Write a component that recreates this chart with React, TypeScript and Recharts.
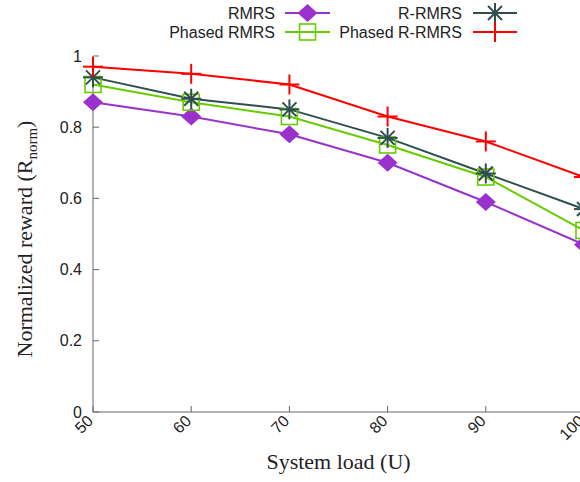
import React from "react";
import { LineChart, Line, XAxis, YAxis, Legend } from "recharts";

const loads = [50, 60, 70, 80, 90, 100];
const yTicks = [0, 0.2, 0.4, 0.6, 0.8, 1];
const yTickLabels = ["0", "0.2", "0.4", "0.6", "0.8", "1"];

const rmrs = [0.87, 0.83, 0.78, 0.7, 0.59, 0.47];
const phasedRmrs = [0.92, 0.87, 0.83, 0.75, 0.66, 0.51];
const rRmrs = [0.94, 0.88, 0.85, 0.77, 0.67, 0.57];
const phasedRRmrs = [0.97, 0.95, 0.92, 0.83, 0.76, 0.66];

const seriesNames = ["RMRS", "Phased RMRS", "R-RMRS", "Phased R-RMRS"];
const seriesColors = ["#9932cc", "#66cc00", "#2f4f4f", "#ff0000"];

const data = loads.map((u, i) => ({
  u,
  rmrs: rmrs[i],
  phasedRmrs: phasedRmrs[i],
  rRmrs: rRmrs[i],
  phasedRRmrs: phasedRRmrs[i],
}));

const frame = "#666";
const sans = "'Liberation Sans', Arial, sans-serif";
const serif = "'Liberation Serif', 'Times New Roman', serif";

function marker(kind: number, cx: number, cy: number, key?: string) {
  const c = seriesColors[kind];
  if (kind === 0)
    return <path key={key} d={`M${cx},${cy - 9}L${cx + 10},${cy}L${cx},${cy + 9}L${cx - 10},${cy}Z`} fill={c} />;
  if (kind === 1)
    return <rect key={key} x={cx - 8} y={cy - 8} width={16} height={16} fill="none" stroke={c} strokeWidth={1.6} />;
  if (kind === 2)
    return (
      <g key={key} stroke={c} strokeWidth={2}>
        <line x1={cx - 10} y1={cy} x2={cx + 10} y2={cy} />
        <line x1={cx} y1={cy - 10} x2={cx} y2={cy + 10} />
        <line x1={cx - 7} y1={cy - 7} x2={cx + 7} y2={cy + 7} />
        <line x1={cx - 7} y1={cy + 7} x2={cx + 7} y2={cy - 7} />
      </g>
    );
  return (
    <g key={key} stroke={c} strokeWidth={2}>
      <line x1={cx - 10} y1={cy} x2={cx + 10} y2={cy} />
      <line x1={cx} y1={cy - 10} x2={cx} y2={cy + 10} />
    </g>
  );
}

const dot = (kind: number) => (p: any) => marker(kind, p.cx, p.cy, `${kind}-${p.index}`);

function LegendBox() {
  const cols = [
    { textEnd: 275, x1: 285, x2: 330 },
    { textEnd: 462, x1: 473, x2: 517 },
  ];
  const rows = [13, 32];
  return (
    <svg width={580} height={44} style={{ display: "block" }}>
      {seriesNames.map((name, i) => {
        const col = cols[Math.floor(i / 2)];
        const y = rows[i % 2];
        return (
          <g key={name}>
            <text x={col.textEnd} y={y} dy="0.35em" textAnchor="end" fontFamily={sans} fontSize={16} fill="#222">
              {name}
            </text>
            <line x1={col.x1} x2={col.x2} y1={y} y2={y} stroke={seriesColors[i]} strokeWidth={2} />
            {marker(i, (col.x1 + col.x2) / 2, y)}
          </g>
        );
      })}
    </svg>
  );
}

const LeftTick = (p: any) => (
  <g>
    <line x1={p.x + 11} x2={p.x + 17} y1={p.y} y2={p.y} stroke={frame} />
    <text x={p.x} y={p.y} dy="0.35em" textAnchor="end" fontFamily={sans} fontSize={16} fill="#222">
      {yTickLabels[yTicks.indexOf(p.payload.value)]}
    </text>
  </g>
);

const RightTick = (p: any) => <line x1={p.x} x2={p.x - 6} y1={p.y} y2={p.y} stroke={frame} />;

const TopTick = (p: any) => <line x1={p.x} x2={p.x} y1={p.y} y2={p.y + 4} stroke={frame} />;

const BottomTick = (p: any) => (
  <g>
    <line x1={p.x} x2={p.x} y1={p.y} y2={p.y - 6} stroke={frame} />
    <text
      x={p.x + 1}
      y={p.y + 10}
      textAnchor="end"
      fontFamily={sans}
      fontSize={16}
      fill="#222"
      transform={`rotate(-45, ${p.x + 1}, ${p.y + 10})`}
    >
      {p.payload.value}
    </text>
  </g>
);

const XLabel = (p: any) => {
  const vb = p.viewBox;
  return (
    <text x={vb.x + vb.width / 2} y={vb.y + 57} textAnchor="middle" fontFamily={serif} fontSize={22} fill="#222">
      System load (U)
    </text>
  );
};

const YLabel = (p: any) => {
  const vb = p.viewBox;
  const cx = 32;
  const cy = vb.y + vb.height / 2 + 5;
  return (
    <text
      x={cx}
      y={cy}
      textAnchor="middle"
      fontFamily={serif}
      fontSize={22}
      fill="#222"
      transform={`rotate(-90, ${cx}, ${cy})`}
    >
      Normalized reward (R
      <tspan fontSize={15} dy={5}>norm</tspan>
      <tspan dy={-5}>)</tspan>
    </text>
  );
};

export default function App() {
  return (
    <div style={{ position: "fixed", left: 0, top: 0, width: 580, height: 482, overflow: "hidden", background: "#fff" }}>
      <LineChart width={620} height={482} data={data} margin={{ top: 12, right: 36, left: 0, bottom: 0 }}>
        <XAxis
          dataKey="u"
          type="number"
          domain={[50, 100]}
          ticks={loads}
          height={70}
          tickSize={0}
          tickMargin={0}
          stroke={frame}
          tick={BottomTick}
          label={XLabel}
        />
        <XAxis
          xAxisId="t"
          dataKey="u"
          type="number"
          orientation="top"
          domain={[50, 100]}
          ticks={loads}
          height={0}
          tickSize={0}
          tickMargin={0}
          stroke={frame}
          tick={TopTick}
        />
        <YAxis
          type="number"
          domain={[0, 1]}
          ticks={yTicks}
          width={93}
          tickSize={0}
          tickMargin={11}
          stroke={frame}
          tick={LeftTick}
          label={YLabel}
        />
        <YAxis
          yAxisId="r"
          type="number"
          orientation="right"
          domain={[0, 1]}
          ticks={yTicks}
          width={0}
          tickSize={0}
          tickMargin={0}
          stroke={frame}
          tick={RightTick}
        />
        <Legend verticalAlign="top" content={() => <LegendBox />} wrapperStyle={{ top: 0, left: 0, width: 580, height: 44 }} />
        <Line dataKey="rmrs" name={seriesNames[0]} stroke={seriesColors[0]} strokeWidth={2} dot={dot(0)} isAnimationActive={false} />
        <Line dataKey="phasedRmrs" name={seriesNames[1]} stroke={seriesColors[1]} strokeWidth={2} dot={dot(1)} isAnimationActive={false} />
        <Line dataKey="rRmrs" name={seriesNames[2]} stroke={seriesColors[2]} strokeWidth={2} dot={dot(2)} isAnimationActive={false} />
        <Line dataKey="phasedRRmrs" name={seriesNames[3]} stroke={seriesColors[3]} strokeWidth={2} dot={dot(3)} isAnimationActive={false} />
      </LineChart>
    </div>
  );
}
